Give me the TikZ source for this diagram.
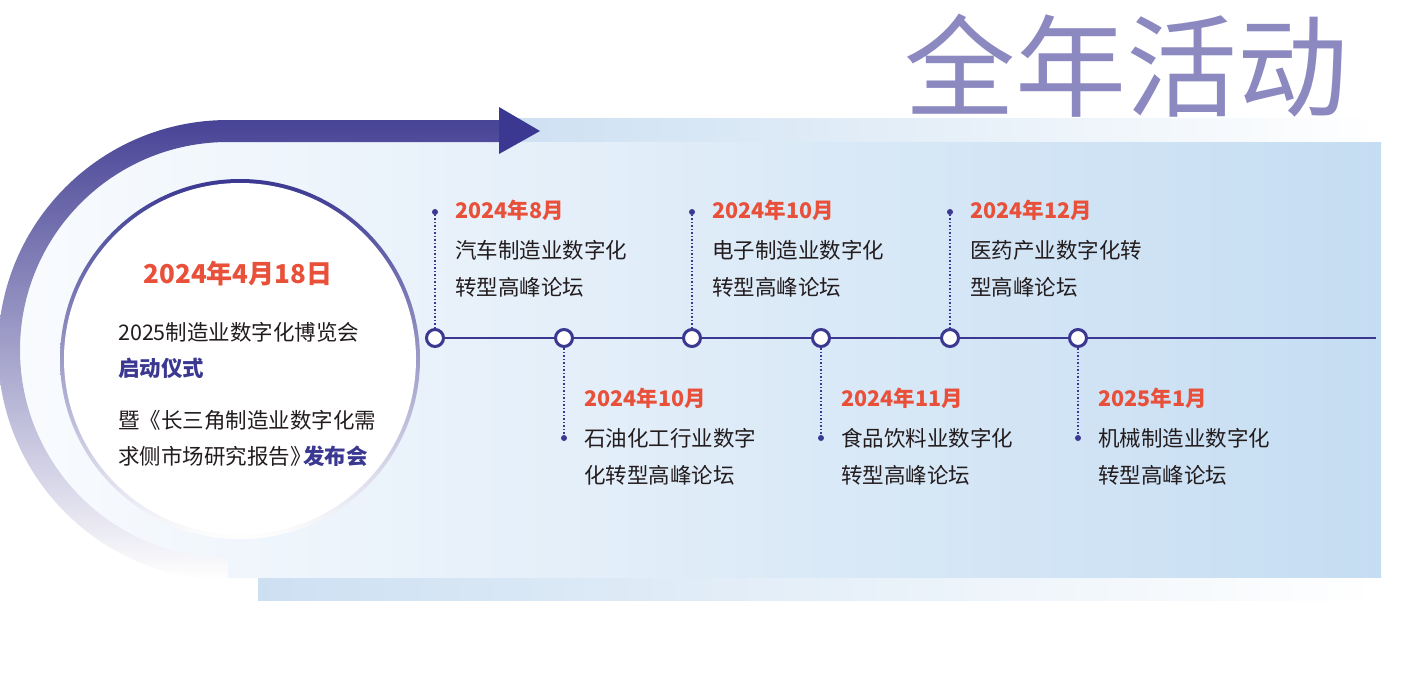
\documentclass[tikz,border=0pt]{standalone}
\usepackage{fontspec}
\setmainfont{Noto Sans CJK SC}
\usetikzlibrary{positioning}
\definecolor{navy}{RGB}{58,56,145}
\definecolor{bandc}{RGB}{72,68,150}
\definecolor{datered}{RGB}{232,80,58}
\definecolor{inkc}{RGB}{35,28,30}
\definecolor{titlec}{RGB}{139,137,192}
\definecolor{bgl}{RGB}{249,251,254}
\definecolor{bgr}{RGB}{197,221,242}
\definecolor{stripc}{RGB}{205,224,242}

\begin{document}
\begin{tikzpicture}[x=1pt,y=-1pt,
body/.style={anchor=west,inner sep=0pt,text=inkc,font=\fontsize{21.5}{26}\selectfont},
datelbl/.style={body,text=datered,font=\fontsize{21.5}{26}\selectfont\bfseries},
milestone/.style={circle,draw=navy,line width=3pt,fill=white,minimum size=17pt,inner sep=0pt},
tipdot/.style={circle,fill=navy,minimum size=6pt,inner sep=0pt},
tl/.style={draw=navy,line width=2.5pt},
lead/.style={draw=navy,line width=1.2pt,dash pattern=on 1.5pt off 2pt}]
\useasboundingbox (0,0) rectangle (1403,675);

% title, partly hidden by the strip
\node[anchor=base west,inner sep=0pt,text=titlec,font=\fontsize{111}{111}\selectfont](title)at(904,108){全年活动};

% backgrounds
\shade[left color=bgl,right color=bgr](228,141)--(1381,141)--(1381,578)--(228,578)arc[start angle=90,end angle=270,radius=218.5]--cycle;
\shade[left color=stripc,right color=white](505,118)rectangle(1381,141);
\shade[left color=stripc,right color=white](258,578)rectangle(1381,600);

% band and arrow
\shade[top color=bandc,bottom color=white](228,580)arc[start angle=90,end angle=270,radius=230]--(500,120)--(500,142)--(228,142)arc[start angle=270,end angle=90,radius=208]--cycle;
\fill[navy](499,107)--(540,131)--(499,154)--cycle;

% hub
\shade[top color=navy,bottom color=white](240,359)circle[radius=180];
\fill[white](240,359)circle[radius=176];
\node[font=\fontsize{26}{30}\selectfont\bfseries,text=datered](hubdate)at(238,274){2024年4月18日};
\node[body](expo)at(118,332){2025制造业数字化博览会};
\node[body,text=navy,font=\fontsize{21.5}{26}\selectfont\bfseries](launch)at(118,368){启动仪式};
\node[body](rel1)at(118,420){暨《长三角制造业数字化需};
\node[body](rel2)at(118,456){求侧市场研究报告》\kern-.4em\textcolor{navy}{\bfseries 发布会}};

% timeline
\foreach \i/\x/\py/\dy/\da/\la/\lb in {1/435/212/210/2024年8月/汽车制造业数字化/转型高峰论坛,
2/564/438/398/2024年10月/石油化工行业数字/化转型高峰论坛,
3/692/212/210/2024年10月/电子制造业数字化/转型高峰论坛,
4/821/438/398/2024年11月/食品饮料业数字化/转型高峰论坛,
5/950/212/210/2024年12月/医药产业数字化转/型高峰论坛,
6/1078/438/398/2025年1月/机械制造业数字化/转型高峰论坛}{
\node[milestone](m\i)at(\x,338){};
\node[tipdot](p\i)at(\x,\py){};
\draw[lead](m\i)--(p\i);
\node[datelbl](d\i)at(\x+20,\dy){\da};
\node[body](a\i)at(\x+20,\dy+40){\la};
\node[body](b\i)at(\x+20,\dy+77){\lb};
}
\coordinate(tlend)at(1376,338);
\draw[tl](m1)--(m2)--(m3)--(m4)--(m5)--(m6)--(tlend);
\end{tikzpicture}
\end{document}
